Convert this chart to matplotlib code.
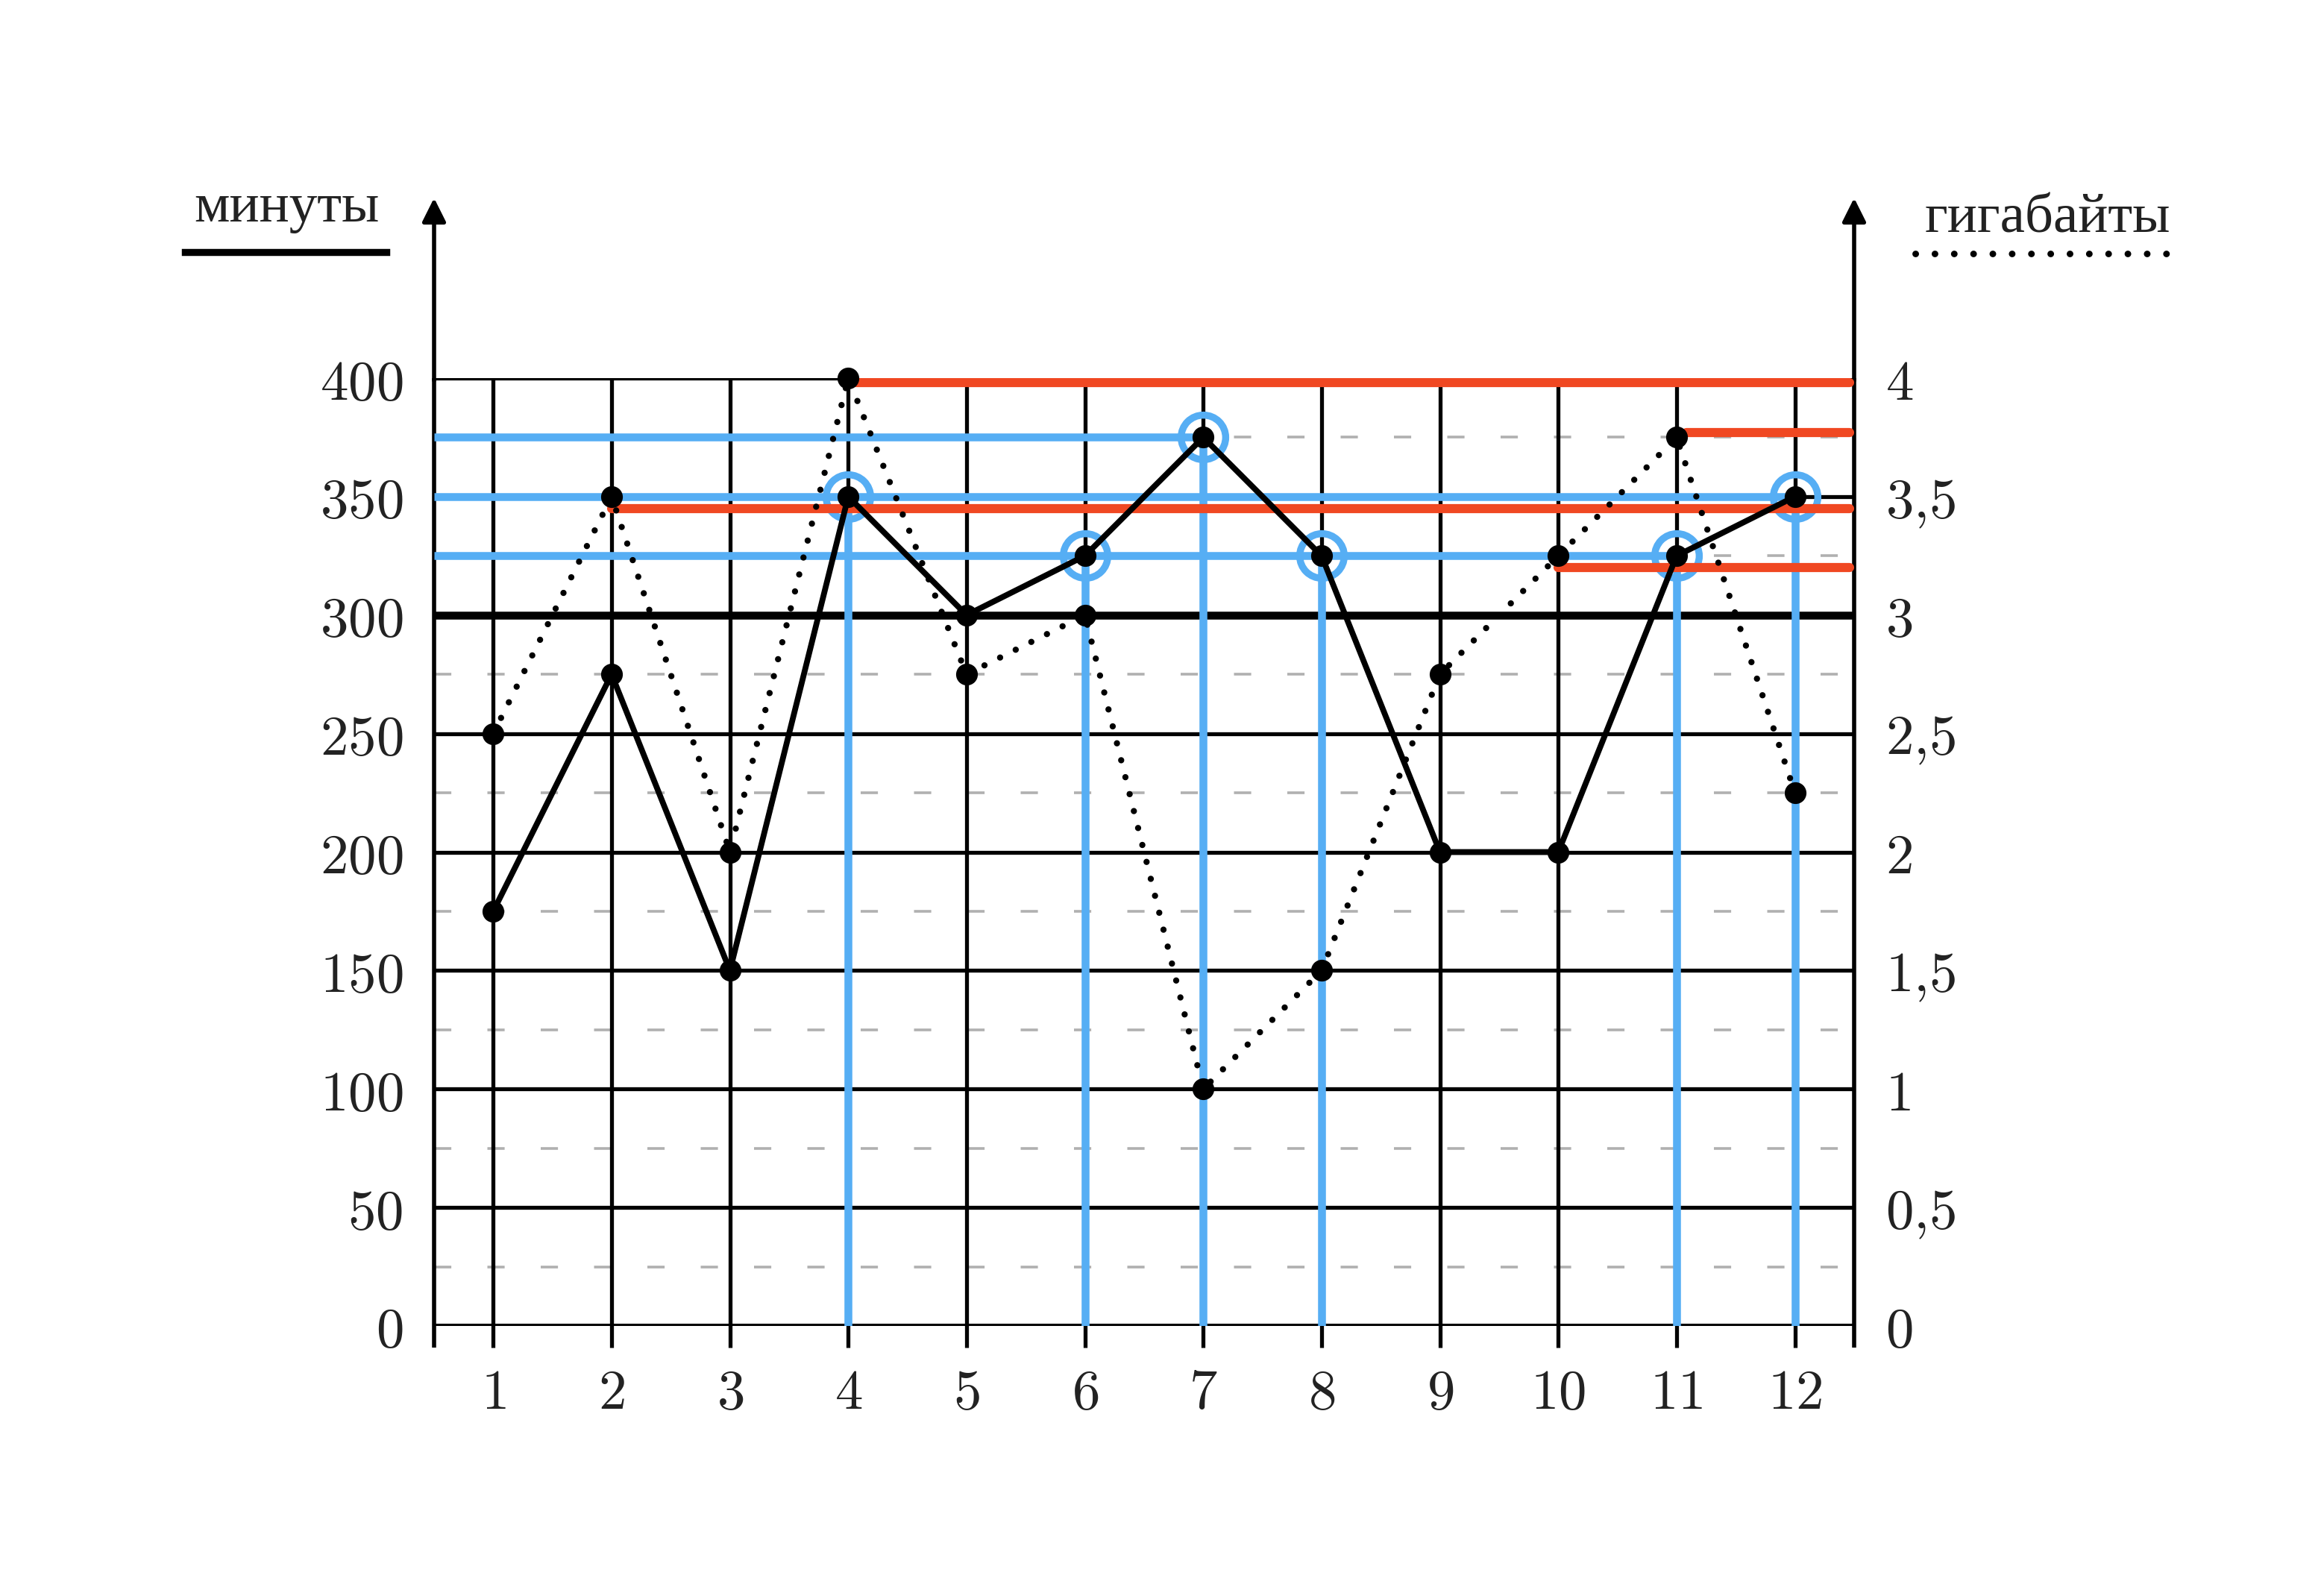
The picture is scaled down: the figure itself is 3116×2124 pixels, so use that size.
import matplotlib
matplotlib.use("Agg")
import matplotlib.pyplot as plt
from matplotlib.lines import Line2D

plt.rcParams['mathtext.fontset'] = 'cm'

# ---------------- data ----------------
months = [1, 2, 3, 4, 5, 6, 7, 8, 9, 10, 11, 12]
minutes = [175, 275, 150, 350, 300, 325, 375, 325, 200, 200, 325, 350]
gigabytes = [2.5, 3.5, 2.0, 4.0, 2.75, 3.0, 1.0, 1.5, 2.75, 3.25, 3.75, 2.25]

minute_ticks = [0, 50, 100, 150, 200, 250, 300, 350, 400]
minute_labels = ['0', '50', '100', '150', '200', '250', '300', '350', '400']
minor_minute_lines = [25, 75, 125, 175, 225, 275, 325, 375]
gb_ticks = [0, 0.5, 1, 1.5, 2, 2.5, 3, 3.5, 4]
gb_labels = ['0', '0,5', '1', '1,5', '2', '2,5', '3', '3,5', '4']

# highlighted (blue) minute levels and the month each guide line runs to
blue_levels = [375, 350, 325]
blue_level_end = [7, 12, 11]
highlight_months = [4, 6, 7, 8, 11, 12]

# red guide lines (in gigabytes) and their starting months
red_levels_gb = [3.98, 3.45, 3.77, 3.2]
red_start = [4, 2, 11.08, 10]

label_min = 'минуты'
label_gb = 'гигабайты'

BLUE = '#56AEF4'
RED = '#F04822'
W, H = 3116, 2124

fig = plt.figure(figsize=(W / 200, H / 200), dpi=200)
ax = fig.add_axes([582 / W, 346 / H, (2486 - 582) / W, (1778 - 507) / H])
ax.set_xlim(0.5, 12.5)
ax.set_ylim(0, 400)
ax2 = ax.twinx()
ax2.set_ylim(0, 4)
for a in (ax, ax2):
    for s in a.spines.values():
        s.set_visible(False)
    a.set_xticks([])

# ---- grid ----
ax.hlines(minor_minute_lines, 0.5, 12.5, colors='#b0b0b0', lw=1.3,
          linestyles=[(0, (6.4, 13.4))], zorder=1)
for y in minute_ticks:
    lw = 3.8 if y == 300 else (2.2 if y == 0 else 1.9)
    ax.plot([0.5, 12.5], [y, y], color='black', lw=lw, zorder=1.2,
            solid_capstyle='butt')
ax.vlines(months, -9, 400, colors='black', lw=1.9, zorder=1.1, clip_on=False)
ax.vlines([0.5, 12.5], -9, 400, colors='black', lw=2.0, zorder=1.3, clip_on=False)
for xa in (0.5, 12.5):
    ax.annotate('', xy=(xa, 476), xytext=(xa, 399),
                arrowprops=dict(arrowstyle='-|>', color='black', lw=2.0,
                                mutation_scale=24, shrinkA=0, shrinkB=0),
                annotation_clip=False)

# ---- blue highlight ----
for lvl, xe in zip(blue_levels, blue_level_end):
    ax.plot([0.5, xe], [lvl, lvl], color=BLUE, lw=3.8, zorder=2,
            solid_capstyle='butt')
hl_vals = [minutes[months.index(m)] for m in highlight_months]
ax.vlines(highlight_months, 0, hl_vals, colors=BLUE, lw=3.8, zorder=2)
ax.plot(highlight_months, hl_vals, 'o', mfc='none', mec=BLUE, ms=21.5,
        mew=3.4, zorder=2.5)

# ---- red guide lines ----
for lvl, xs in zip(red_levels_gb, red_start):
    ax.plot([xs, 12.46], [lvl, lvl], color=RED, lw=4.4, zorder=3,
            solid_capstyle='round', transform=ax2.transData)

# ---- series ----
ax.plot(months, minutes, color='black', lw=2.8, marker='o', ms=9.5,
        zorder=5, clip_on=False)
ax.plot(months, gigabytes, color='black', lw=3.0, linestyle=(0, (0.01, 2.8)),
        dash_capstyle='round', zorder=5, clip_on=False,
        transform=ax2.transData)
ax.plot(months, gigabytes, 'o', color='black', ms=9.5, zorder=6, clip_on=False,
        transform=ax2.transData)

# ---- tick labels ----
ax.set_yticks(minute_ticks)
ax.set_yticklabels(['$' + t + '$' for t in minute_labels])
ax2.set_yticks(gb_ticks)
ax2.set_yticklabels(['$' + t.replace(',', '{,}\\!\\,') + '$' for t in gb_labels])
ax.tick_params(axis='y', length=0, pad=15, labelsize=27, colors='#222222')
ax2.tick_params(axis='y', length=0, pad=15, labelsize=27, colors='#222222')
for m in months:
    ax.text(m, -17, '$%d$' % m, ha='center', va='top', fontsize=27,
            color='#222222')

# ---- legend ----
fig.text(384 / W, 1 - 297 / H, label_min, ha='center', va='baseline',
         fontsize=27, family='Liberation Serif', color='#222222')
fig.add_artist(Line2D([248 / W, 518 / W], [1 - 338 / H] * 2, color='black',
                      lw=3.4, transform=fig.transFigure))
fig.text(2745 / W, 1 - 312 / H, label_gb, ha='center', va='baseline',
         fontsize=27, family='Liberation Serif', color='#222222')
fig.add_artist(Line2D([2568 / W, 2909 / W], [1 - 340 / H] * 2, color='black',
                      lw=3.2, linestyle=(0, (0.01, 2.9)), dash_capstyle='round',
                      transform=fig.transFigure))

fig.savefig('out.png', dpi=200, facecolor='white')
